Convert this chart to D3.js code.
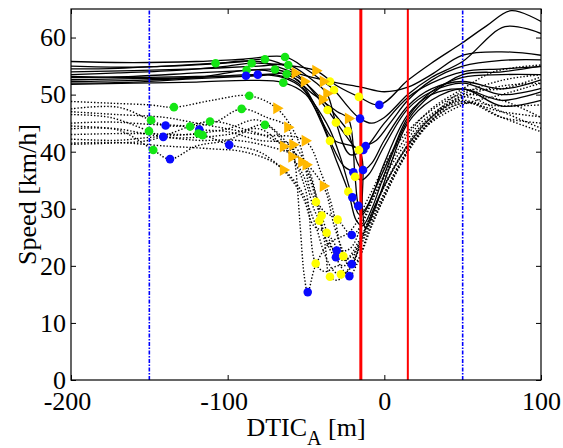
<!DOCTYPE html>
<html>
<head>
<meta charset="utf-8">
<script src="https://cdn.jsdelivr.net/npm/d3@7"></script>
<style>
  html, body { margin: 0; padding: 0; background: #fff; }
  svg { display: block; }
  text { font-family: "Liberation Serif", "Times New Roman", serif; }
</style>
</head>
<body>
<svg id="chart" width="563" height="448"></svg>
<script>
// ---------------- data ----------------
const xTicks = [-200, -100, 0, 100];
const yTicks = [0, 10, 20, 30, 40, 50, 60];
const xDomain = [-200, 100];
const yDomain = [0, 65];
const blueRefLines = [-150, 50];
const redRefThick = [-15];
const redRefThin = [15];
const xLabel = "DTIC";
const xLabelSub = "A";
const xLabelUnit = " [m]";
const yLabel = "Speed [km/h]";

// each run: [distance, speed, marker]; marker: g=green, b=blue, o=orange triangle, y=yellow
const solidRuns = [
  [[-200,54.5],[-170,54.6],[-140,55],[-107.7,55.5,'g'],[-80,55.8],[-57,53.8,'o'],[-34.7,52.3,'y'],[-15,51.3],[0,50.5],[15,51.3],[30,53.5],[50,56.9],[75,57.5],[100,56.9]],
  [[-200,53.5],[-170,53.8],[-130,54.3],[-100,55],[-84.7,55.5,'g'],[-65,55.2],[-43.8,54.2,'o'],[-30,51.5],[-16.2,49.6,'y'],[-3.2,48.2,'b'],[15,52.5],[30,55.5],[49.4,59],[65,62],[81,64.7],[100,62.8]],
  [[-200,55.8],[-160,55.6],[-120,55.8],[-90,56.2],[-63.4,56.6,'g'],[-50,54.5],[-39,52.3,'o'],[-32.1,50.8,'y'],[-22,47.5],[-15.5,45.8,'b'],[-8,45],[0,46],[15,50],[30,53],[50,55.8],[77,61.9],[100,60.7]],
  [[-200,55],[-160,54.8],[-120,55.2],[-90,55.8],[-76.2,56.2,'g'],[-60,54.5],[-51.1,52.3,'o'],[-36.2,47.3,'y'],[-25,43],[-17,40.5],[-11.9,41,'b'],[-5,42],[5,45.5],[15,49],[30,52.5],[50,55],[75,56],[100,56.1]],
  [[-200,54],[-160,54.2],[-120,54.5],[-80,55],[-61.3,55.2,'g'],[-48,53],[-36.8,50.2,'o'],[-30.9,45.1,'y'],[-22,39.5],[-13.4,40.3,'b'],[0,45],[15,49.5],[30,52],[50,54],[75,54.5],[100,54.9]],
  [[-200,53],[-160,53.2],[-120,53.8],[-90,54.2],[-69.8,54.4,'g'],[-55,53],[-39.6,49.1,'o'],[-30,46],[-23.4,43.6,'y'],[-17,38],[-13.6,36.8,'b'],[-8,38],[0,42],[15,48],[30,51],[50,52.3],[75,51],[100,52.6]],
  [[-200,52.3],[-160,52.5],[-120,53],[-100,53.8],[-87.9,54.3,'g'],[-70,54],[-55,52.5],[-44,48],[-34.7,41.9,'y'],[-26,37.5],[-19.8,36.4,'b'],[-15,35],[-10,36],[0,41],[15,47.5],[30,50.5],[50,52],[75,50],[100,51.1]],
  [[-200,52],[-160,52.2],[-120,52.8],[-80,53.3],[-62.3,53.6,'g'],[-45,50],[-30,47],[-23,45.8,'o'],[-18.7,35.6,'y'],[-16.6,30.5,'b'],[-14,29],[-8,32],[0,38],[15,46.5],[30,50],[50,51],[75,49],[100,50.5]],
  [[-200,51.8],[-160,52],[-120,52.2],[-85,52.5],[-64.5,52.1,'g'],[-50,50],[-40,45],[-30,38],[-23,33,'y'],[-18,28],[-14,27],[-8,30],[0,36],[15,45.5],[30,50],[50,53.5],[75,54],[100,55]],
  [[-200,53.2],[-160,53],[-120,53.2],[-88.3,53.3,'b'],[-70,53.5],[-55,52],[-45,48.5],[-35,44],[-28,39],[-20.4,32,'b'],[-16,29],[-12,30],[-5,34],[5,40],[15,46],[30,50.5],[50,53],[75,53.5],[100,53.5]],
  [[-200,52.6],[-160,52.8],[-120,53],[-80.8,53.5,'b'],[-65,53],[-52,51],[-42,46.5],[-32,42],[-16.2,40.3,'y'],[-14,30],[-12,26.5],[-6,30],[3,37],[15,45],[30,49],[50,51],[75,48],[100,49]]
];

const dottedRuns = [
  [[-200,48.8],[-175,48.5],[-150,48.2],[-134.3,47.8,'g'],[-110,49],[-86.2,49.8,'g'],[-68.7,47.6,'o'],[-55,42],[-47,33],[-43.6,31.2,'y'],[-36,24],[-30.4,22.7,'b'],[-22,23],[-12,29],[0,36],[15,43],[30,47.5],[50,51],[70,54],[100,55.2]],
  [[-200,47.5],[-170,47.8],[-148.9,45.5,'g'],[-139.6,44.6,'b'],[-110,45],[-91.1,47.5,'g'],[-75,46],[-61.7,44.3,'o'],[-57,38],[-54,28],[-51,18],[-48.9,15.4,'b'],[-44,20],[-35,24],[-22,26],[-10,32],[5,40],[20,45],[40,49],[50,50],[75,49],[100,46]],
  [[-200,46.5],[-175,46],[-150.2,43.6,'g'],[-141.1,42.6,'b'],[-120,42.5],[-100,43],[-80,44],[-64.5,40.9,'o'],[-52,36],[-45,30],[-41.5,27.9,'y'],[-35,23],[-30.9,21.5,'b'],[-25,21],[-15,25],[0,34],[15,41],[30,46],[50,49.6],[75,47],[100,44.1]],
  [[-200,45],[-175,45.2],[-150,44.8],[-124,44.4,'g'],[-118.1,43.9,'b'],[-100,43.5],[-80,42],[-58.5,41.2,'o'],[-48,36],[-40,28.8,'y'],[-30,21],[-22.3,18.2,'b'],[-18,20],[-10,26],[0,32],[15,40],[30,45.5],[50,48.5],[75,47],[100,46.1]],
  [[-200,44],[-170,43.8],[-147.5,40.3,'g'],[-136.8,38.7,'b'],[-120,41],[-100,42],[-76.2,44.7,'g'],[-59.1,39.1,'o'],[-50,33],[-43.8,20.4,'y'],[-38,19],[-30,20],[-20.8,20.3,'b'],[-15,24],[-5,30],[10,38],[25,44],[50,48.2],[75,50],[100,52]],
  [[-200,43],[-160,43.2],[-130,43],[-116,42.9,'g'],[-99,41.2,'b'],[-80,40],[-64.5,36.8,'o'],[-52,32],[-45,27],[-36.8,25.8,'y'],[-30,23],[-26,21],[-20,22],[-10,28],[0,34],[15,41],[30,46],[50,50.5],[75,51],[100,53.1]],
  [[-200,42.2],[-170,42],[-150,42.5],[-118.7,43.2,'g'],[-100,44],[-80,45.5],[-52.8,38.2,'o'],[-45,33],[-38,24],[-34.7,18.1,'y'],[-30,17.5],[-24,19],[-16,24],[-5,31],[10,39],[25,45],[50,49.5],[75,51.5],[100,52]],
  [[-200,41.3],[-175,41.5],[-150,42],[-111.3,45.3,'g'],[-90,44],[-70,42],[-50,37.7,'o'],[-40,30],[-29.8,28.1,'y'],[-20.8,25.4,'b'],[-15,27],[-5,33],[10,40],[25,45.5],[50,49],[75,46],[100,43.5]],
  [[-200,47],[-170,46.5],[-140,46],[-120,45],[-100,44],[-80,43],[-50.6,41.9,'o'],[-40,36],[-33,30],[-26.2,21.7,'y'],[-22,20],[-16,23],[-6,29],[10,38],[25,44],[50,50],[75,52.5],[100,53.5]],
  [[-200,44.5],[-170,44],[-150,43],[-120,42],[-95,42],[-75,41],[-55,39],[-39,34,'o'],[-32,27],[-27,23],[-22,20],[-17,21],[-8,27],[5,35],[20,42],[35,46.5],[50,48.5],[75,48],[100,48.2]],
  [[-200,41.5],[-170,41.6],[-140,41],[-110,40.5],[-90,40],[-70,38],[-55,34],[-45,28],[-38,22],[-32,19],[-27.7,18.5,'y'],[-22,19.5],[-14,25],[-2,33],[12,40],[28,45.5],[50,48.8],[75,46],[100,45]]
];

const markerColors = { g: "#14e614", b: "#0a0aff", o: "#ffb800", y: "#ffff00" };

// ---------------- drawing ----------------
const svg = d3.select("#chart");
svg.append("rect").attr("width", 563).attr("height", 448).attr("fill", "#fff");

const L = 71, R = 541, T = 9, B = 380;
const x = d3.scaleLinear().domain(xDomain).range([L, R]);
const y = d3.scaleLinear().domain(yDomain).range([B, T]);

svg.append("clipPath").attr("id", "plotclip")
  .append("rect").attr("x", L).attr("y", T).attr("width", R - L).attr("height", B - T);

const plot = svg.append("g").attr("clip-path", "url(#plotclip)");

const line = d3.line()
  .x(d => x(d[0])).y(d => y(d[1]))
  .curve(d3.curveCatmullRom.alpha(0.5));

plot.selectAll("path.dotted").data(dottedRuns).join("path")
  .attr("class", "dotted")
  .attr("d", line)
  .attr("fill", "none").attr("stroke", "#000")
  .attr("stroke-width", 1.4).attr("stroke-dasharray", "1.4,1.9");

plot.selectAll("path.solid").data(solidRuns).join("path")
  .attr("class", "solid")
  .attr("d", line)
  .attr("fill", "none").attr("stroke", "#000")
  .attr("stroke-width", 1.3);

// reference lines
plot.selectAll("line.blueref").data(blueRefLines).join("line")
  .attr("x1", d => x(d)).attr("x2", d => x(d))
  .attr("y1", y(yDomain[0])).attr("y2", y(yDomain[1]))
  .attr("stroke", "#0000ff").attr("stroke-width", 1.6)
  .attr("stroke-dasharray", "4,1.5,1.5,1.5");
plot.selectAll("line.redthick").data(redRefThick).join("line")
  .attr("x1", d => x(d)).attr("x2", d => x(d))
  .attr("y1", y(yDomain[0])).attr("y2", y(yDomain[1]))
  .attr("stroke", "#ff0000").attr("stroke-width", 3);
plot.selectAll("line.redthin").data(redRefThin).join("line")
  .attr("x1", d => x(d)).attr("x2", d => x(d))
  .attr("y1", y(yDomain[0])).attr("y2", y(yDomain[1]))
  .attr("stroke", "#ff0000").attr("stroke-width", 2);

// markers
const allRuns = dottedRuns.concat(solidRuns);
const markerPts = [];
allRuns.forEach(run => run.forEach(p => { if (p[2]) markerPts.push(p); }));
const circles = markerPts.filter(p => p[2] !== 'o');
const tris = markerPts.filter(p => p[2] === 'o');
const triSym = d3.symbol().type(d3.symbolTriangle).size(62);

plot.selectAll("circle.mk").data(circles).join("circle")
  .attr("class", "mk")
  .attr("cx", d => x(d[0])).attr("cy", d => y(d[1]))
  .attr("r", 4.3)
  .attr("fill", d => markerColors[d[2]]);
plot.selectAll("path.tri").data(tris).join("path")
  .attr("class", "tri")
  .attr("d", triSym)
  .attr("transform", d => `translate(${x(d[0])},${y(d[1])}) rotate(90)`)
  .attr("fill", markerColors.o);

// axes (inward ticks, box)
const fs = 26;
const axB = svg.append("g").attr("transform", `translate(0,${B})`)
  .call(d3.axisBottom(x).tickValues(xTicks).tickSizeInner(-5).tickSizeOuter(0).tickPadding(12).tickFormat(d3.format("d")));
const axL = svg.append("g").attr("transform", `translate(${L},0)`)
  .call(d3.axisLeft(y).tickValues(yTicks).tickSizeInner(-5).tickSizeOuter(0).tickPadding(5).tickFormat(d3.format("d")));
const axT = svg.append("g").attr("transform", `translate(0,${T})`)
  .call(d3.axisTop(x).tickValues(xTicks).tickSizeInner(-5).tickSizeOuter(0).tickFormat(""));
const axR = svg.append("g").attr("transform", `translate(${R},0)`)
  .call(d3.axisRight(y).tickValues(yTicks).tickSizeInner(-5).tickSizeOuter(0).tickFormat(""));
[axB, axL, axT, axR].forEach(g => {
  g.select(".domain").remove();
  g.selectAll(".tick line").attr("stroke", "#000").attr("stroke-width", 1);
  g.selectAll("text").attr("font-family", "Liberation Serif, serif").attr("font-size", fs).attr("fill", "#000");
});
axB.selectAll(".tick text")
  .text(d => d < 0 ? "-" + Math.abs(d) : String(d))
  .attr("dx", d => d < 0 ? -4 : 0);

svg.append("rect").attr("x", L).attr("y", T).attr("width", R - L).attr("height", B - T)
  .attr("fill", "none").attr("stroke", "#000").attr("stroke-width", 1.2);

// labels
const xl = svg.append("text")
  .attr("x", (L + R) / 2).attr("y", 436)
  .attr("text-anchor", "middle")
  .attr("font-size", fs).attr("fill", "#000");
xl.append("tspan").text(xLabel);
xl.append("tspan").attr("dy", 9).attr("font-size", 20).text(xLabelSub);
xl.append("tspan").attr("dy", -9).text(xLabelUnit);

svg.append("text")
  .attr("transform", `translate(36,${(T + B) / 2}) rotate(-90)`)
  .attr("text-anchor", "middle")
  .attr("font-size", fs).attr("fill", "#000")
  .text(yLabel);
</script>
</body>
</html>
